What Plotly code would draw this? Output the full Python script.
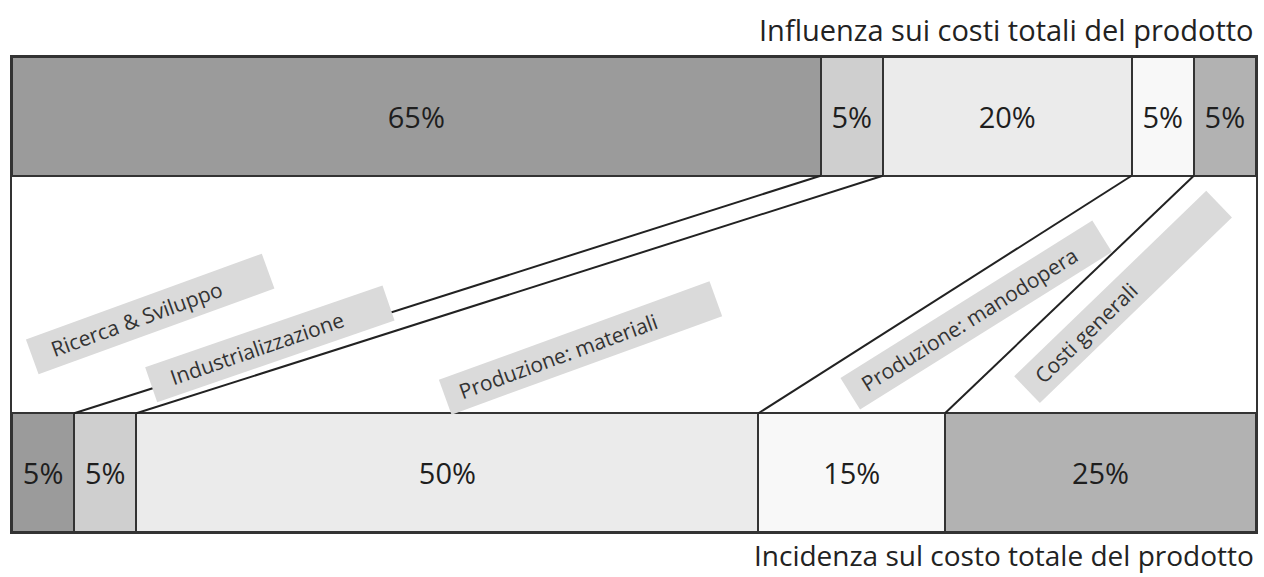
import plotly.graph_objects as go
import numpy as np

categories = ["Ricerca & Sviluppo", "Industrializzazione", "Produzione: materiali",
              "Produzione: manodopera", "Costi generali"]
influenza = [65, 5, 20, 5, 5]      # top bar: influenza sui costi totali
incidenza = [5, 5, 50, 15, 25]     # bottom bar: incidenza sul costo totale
colors = ["#9b9b9b", "#cfcfcf", "#ebebeb", "#f8f8f8", "#b2b2b2"]

title_top = "Influenza sui costi totali del prodotto"
title_bottom = "Incidenza sul costo totale del prodotto"

fig = go.Figure()
for cat, a, b, c in zip(categories, influenza, incidenza, colors):
    fig.add_trace(go.Bar(
        y=[3.5, 0.5], x=[a, b], orientation="h", width=1,
        marker=dict(color=c, line=dict(color="#333333", width=2)),
        text=[f"{a}%", f"{b}%"], textposition="inside", insidetextanchor="middle",
        constraintext="none",
        textfont=dict(family="Open Sans", size=29, color="#1e1e1e"),
        name=cat, showlegend=False, hoverinfo="skip"))

cum_top = np.cumsum(influenza)
cum_bot = np.cumsum(incidenza)
for i in range(len(categories) - 1):
    fig.add_trace(go.Scatter(x=[cum_top[i], cum_bot[i]], y=[3, 1], mode="lines",
                             line=dict(color="#222222", width=2),
                             showlegend=False, hoverinfo="skip"))

# label placement (data coords), angle, box width, leading pad (nbsp count)
label_pos = [(11.1, 1.84, -20, 242, 3), (20.7, 1.58, -19, 242, 3),
             (45.7, 1.55, -20, 279, 2), (77.5, 1.83, -32, 288, 2),
             (89.3, 1.98, -44, 258, 2)]
for cat, (x, y, ang, w, pad) in zip(categories, label_pos):
    fig.add_annotation(x=x, y=y, xref="x", yref="y", text="\u00a0" * pad + cat,
                       showarrow=False, textangle=ang, bgcolor="#dadada",
                       borderpad=4, width=w, align="left",
                       font=dict(family="Open Sans", size=21, color="#333333"))

fig.add_annotation(x=1, y=1.057, xref="paper", yref="paper", text=title_top,
                   showarrow=False, xanchor="right", yanchor="middle",
                   font=dict(family="Open Sans", size=29, color="#222222"))
fig.add_annotation(x=1, y=-0.048, xref="paper", yref="paper", text=title_bottom,
                   showarrow=False, xanchor="right", yanchor="middle",
                   font=dict(family="Open Sans", size=28, color="#222222"))

fig.update_layout(
    barmode="stack", width=1264, height=577,
    margin=dict(l=12, r=6, t=57, b=45),
    plot_bgcolor="white", paper_bgcolor="white",
    xaxis=dict(range=[0, 100], showgrid=False, zeroline=False, showticklabels=False,
               ticks="", showline=True, mirror=True, linecolor="#333333", linewidth=2),
    yaxis=dict(range=[0, 4], showgrid=False, zeroline=False, showticklabels=False,
               ticks="", showline=True, mirror=True, linecolor="#333333", linewidth=2),
)
fig.write_html("out.html", config={"displayModeBar": False},
               post_script="document.body.style.margin='0';")
